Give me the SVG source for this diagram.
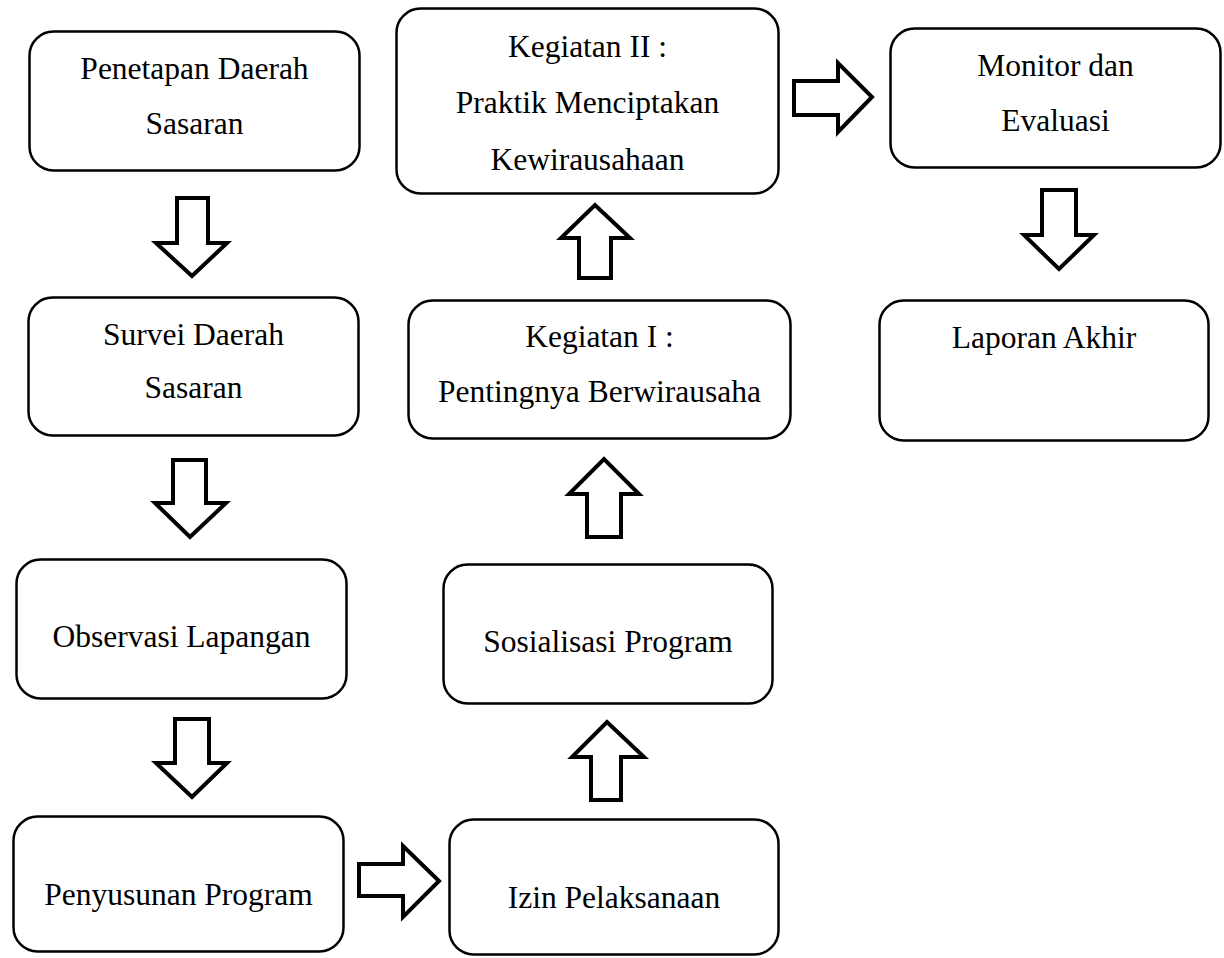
<svg xmlns="http://www.w3.org/2000/svg" width="1224" height="958" viewBox="0 0 1224 958">
<style>
.box{fill:#fff;stroke:#000;stroke-width:2.5}
.arr{fill:#fff;stroke:#000;stroke-width:4;stroke-linejoin:miter}
text{font-family:"Liberation Serif","Times New Roman",serif;font-size:31.5px;fill:#000;text-anchor:middle}
</style>
<rect width="1224" height="958" fill="#fff"/>
<g id="connectors">
<polygon class="arr" points="177,198 208,198 208,243 227,243 192,276 156,243 177,243"/>
<polygon class="arr" points="173,460 206,460 206,503 226,503 190,537 155,503 173,503"/>
<polygon class="arr" points="175,719 209,719 209,763 227,763 192,797 156,763 175,763"/>
<polygon class="arr" points="359,864 403,864 403,846 439,881 403,917 403,896 359,896"/>
<polygon class="arr" points="591,800 621,800 621,757 644,757 607,722 572,757 591,757"/>
<polygon class="arr" points="587,537 621,537 621,494 639,494 604,459 569,494 587,494"/>
<polygon class="arr" points="579,278 611,278 611,238 630,238 595,205 561,238 579,238"/>
<polygon class="arr" points="794,81 838,81 838,63 872,97 838,132 838,115 794,115"/>
<polygon class="arr" points="1042,190 1076,190 1076,235 1094,235 1059,269 1024,235 1042,235"/>
</g>
<g id="n1"><rect class="box" x="29.5" y="31.5" width="330" height="139" rx="24"/><text x="194.5" y="79">Penetapan Daerah</text><text x="194.5" y="134">Sasaran</text></g>
<g id="n2"><rect class="box" x="28.5" y="297.5" width="330" height="138" rx="24"/><text x="193.5" y="345">Survei Daerah</text><text x="193.5" y="398">Sasaran</text></g>
<g id="n3"><rect class="box" x="16.5" y="559.5" width="330" height="139" rx="24"/><text x="181.5" y="647">Observasi Lapangan</text></g>
<g id="n4"><rect class="box" x="13.5" y="816.5" width="330" height="135" rx="24"/><text x="178.5" y="905">Penyusunan Program</text></g>
<g id="n5"><rect class="box" x="449.5" y="819.5" width="329" height="135" rx="24"/><text x="614" y="908">Izin Pelaksanaan</text></g>
<g id="n6"><rect class="box" x="443.5" y="564.5" width="329" height="139" rx="24"/><text x="608" y="652">Sosialisasi Program</text></g>
<g id="n7"><rect class="box" x="408.5" y="300.5" width="382" height="138" rx="24"/><text x="599.5" y="347">Kegiatan I :</text><text x="599.5" y="402">Pentingnya Berwirausaha</text></g>
<g id="n8"><rect class="box" x="396.5" y="8.5" width="382" height="185" rx="24"/><text x="587.5" y="57">Kegiatan II :</text><text x="587.5" y="113">Praktik Menciptakan</text><text x="587.5" y="170">Kewirausahaan</text></g>
<g id="n9"><rect class="box" x="890.5" y="28.5" width="330" height="139" rx="24"/><text x="1055.5" y="76">Monitor dan</text><text x="1055.5" y="131">Evaluasi</text></g>
<g id="n10"><rect class="box" x="879.5" y="300.5" width="329" height="140" rx="24"/><text x="1044" y="348">Laporan Akhir</text></g>
</svg>
